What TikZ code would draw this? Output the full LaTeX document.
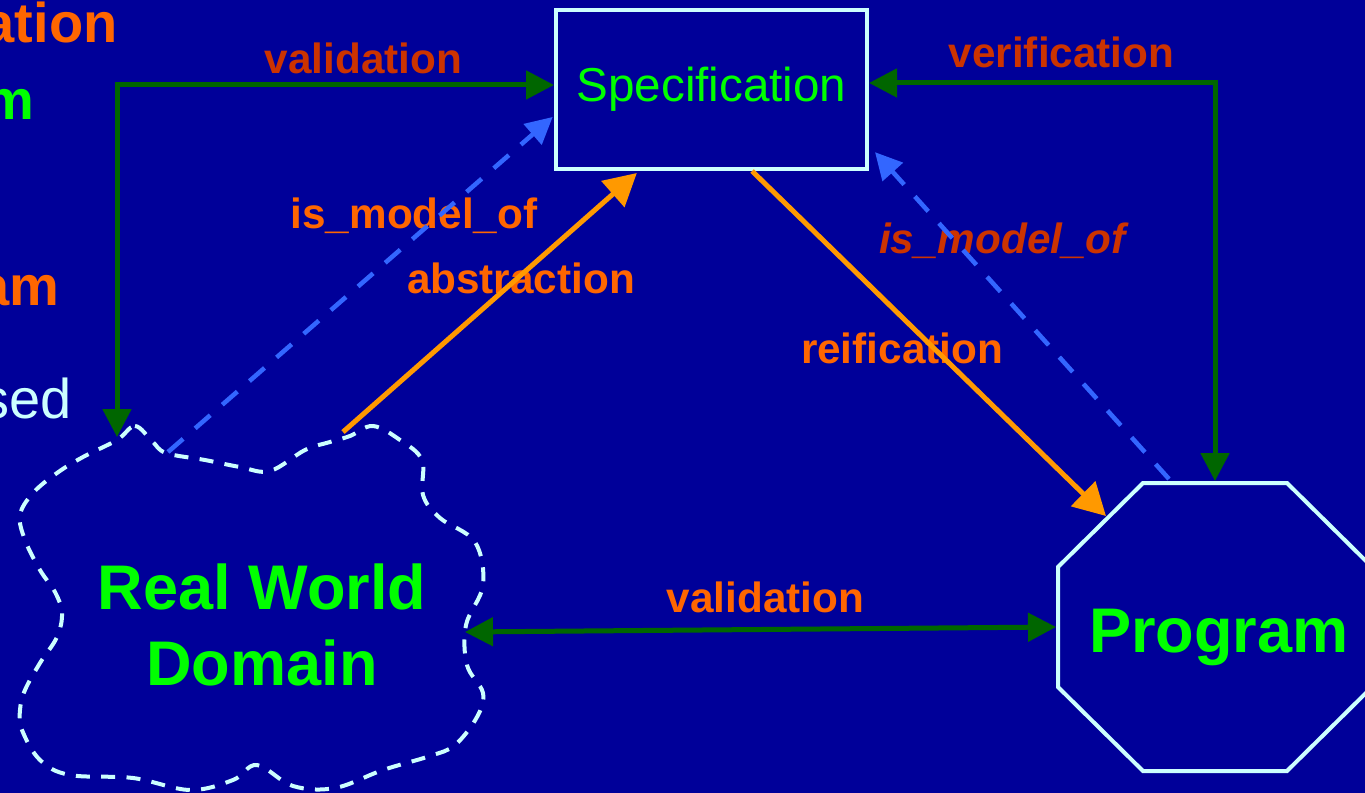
\documentclass[tikz,border=0pt]{standalone}
\usepackage{fontspec}
\setmainfont{Liberation Sans}
\usetikzlibrary{arrows.meta,calc}

\definecolor{bgblue}{HTML}{000099}
\definecolor{txtgreen}{HTML}{00FF00}
\definecolor{lblorange}{HTML}{FF6600}
\definecolor{lblred}{HTML}{CC3300}
\definecolor{lnkgreen}{HTML}{006600}
\definecolor{lnkorange}{HTML}{FF9900}
\definecolor{lnkblue}{HTML}{3366FF}
\definecolor{shapecyan}{HTML}{CCFFFF}

\tikzset{every picture/.style={line width=0.75pt}}

\begin{document}
\begin{tikzpicture}[x=0.75pt,y=0.75pt,yscale=-1,xscale=1,
  lbl/.style={inner sep=0pt,anchor=base,font=\fontsize{31.7}{38}\selectfont\bfseries},
  sidetxt/.style={inner sep=0pt,anchor=base east,font=\fontsize{42}{50}\selectfont},
  bigtxt/.style={inner sep=0pt,text=txtgreen,font=\fontsize{47.3}{57}\selectfont\bfseries},
  specbox/.style={draw=shapecyan,line width=3pt,inner sep=0pt,minimum width=233.25pt,minimum height=119.25pt,text=txtgreen,font=\fontsize{35.7}{43}\selectfont},
  shapeline/.style={draw=shapecyan,line width=3pt},
  valline/.style={draw=lnkgreen,line width=3.75pt,arrows={Triangle[length=21pt,width=21pt]-Triangle[length=21pt,width=21pt]}},
  refline/.style={draw=lnkorange,line width=3.75pt,arrows={-Triangle[length=24pt,width=25.5pt]}},
  modline/.style={draw=lnkblue,line width=3.4pt,dash pattern=on 15pt off 12pt,arrows={-Triangle[length=20pt,width=20pt]}}]
	%set diagram size 1365 x 793
	\fill[bgblue] (0,0) rectangle (1365,793);
	\useasboundingbox (0,0) rectangle (1365,793);
	
	% Text Node (cut at the left edge)
	\node[sidetxt,text=lblorange,font=\fontsize{42}{50}\selectfont\bfseries] (frgA) at (118,42) {ation};
	% Text Node
	\node[sidetxt,text=txtgreen,font=\fontsize{42}{50}\selectfont\bfseries] (frgB) at (35,119) {m};
	% Text Node
	\node[sidetxt,text=lblorange,font=\fontsize{42}{50}\selectfont\bfseries] (frgC) at (60,305) {am};
	% Text Node
	\node[sidetxt,text=shapecyan] (frgD) at (72,418) {sed};
	
	%Shape: Rectangle
	\node[specbox] (spec) at (711.5,89.5) {Specification};
	
	%Shape: Cloud
	\draw[shapeline,dash pattern=on 10.5pt off 8.5pt] plot[smooth cycle,tension=0.6] coordinates {
		(117,440) (135,426) (152,441) (166,453) (205,460) (240,467) (270,471)
		(305,450) (330,442) (350,436) (373,426) (400,440) (422,460) (423,495)
		(440,518) (475,542) (483,585) (466,625) (467,665) (483,693) (477,717)
		(455,745) (430,756) (383,770) (335,788) (293,786) (257,765) (233,780)
		(190,790) (133,778) (70,775) (40,760) (22,730) (20,710) (25,690)
		(40,663) (57,637) (62,613) (55,592) (40,570) (25,540) (20,515)
		(33,493) (57,473) (83,457)};
	\node[bigtxt,align=center] (world) at (262,625) {Real World\\Domain};
	\coordinate (worldN) at (117,437);
	\coordinate (worldNE) at (168,452);
	\coordinate (worldTop) at (343,432);
	\coordinate (worldE) at (465,632);
	
	%Shape: Octagon
	\draw[shapeline] (1143,483) -- (1287,483) -- (1372,567) -- (1372,687) -- (1287,771) -- (1143,771) -- (1058,687) -- (1058,567) -- cycle;
	\node[bigtxt,anchor=base] (prog) at (1219,652) {Program};
	\coordinate (progN) at (1215,481);
	\coordinate (progNW) at (1106,516);
	\coordinate (progTop) at (1169,479);
	\coordinate (progW) at (1056,627);
	
	% Text Node
	\node[lbl,text=lblred] (valtop) at (363.5,73) {validation};
	% Text Node
	\node[lbl,text=lblred] (verif) at (1061.5,67) {verification};
	% Text Node
	\node[lbl,text=lblorange] (modleft) at (414,228) {is\_model\_of};
	% Text Node
	\node[lbl,text=lblorange] (abstr) at (521,293) {abstraction};
	% Text Node
	\node[lbl,text=lblred,font=\fontsize{31.7}{38}\selectfont\bfseries\itshape] (modright) at (1002.5,253) {is\_model\_of};
	% Text Node
	\node[lbl,text=lblorange] (reif) at (902,363) {reification};
	% Text Node
	\node[lbl,text=lblorange] (valbot) at (765.5,612) {validation};
	
	%Straight Lines (yshift runs downward here, as yscale=-1)
	\draw[valline] ([yshift=-3.4pt]spec.west) -| (worldN);
	\draw[valline] ([yshift=-4.9pt]spec.east) -| (progN);
	\draw[valline] (worldE) -- (progW);
	\draw[refline] (worldTop) -- ([xshift=-56pt,yshift=1.5pt]spec.south);
	\draw[refline] ([xshift=30.4pt]spec.south) -- (progNW);
	\draw[modline] (worldNE) -- ([yshift=20.6pt,xshift=-1pt]spec.west);
	\draw[modline] (progTop) -- ([xshift=4.5pt,yshift=47pt]spec.east);
	
\end{tikzpicture}
\end{document}
